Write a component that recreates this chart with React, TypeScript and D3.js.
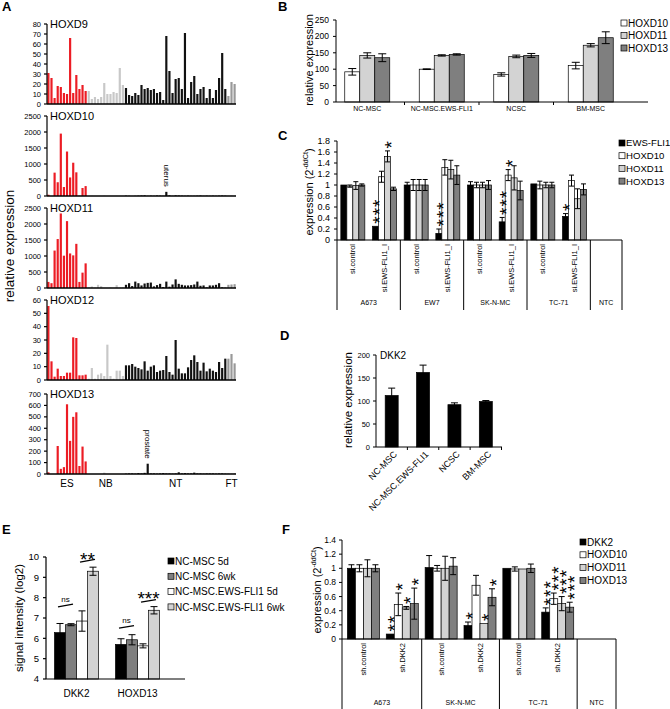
import React from "react";
import * as d3 from "d3";

const FONT = "'Liberation Sans', Arial, Helvetica, sans-serif";
const RED = "#ec1c24";
const BLACK = "#000000";
const WHITE = "#ffffff";
const LIGHT = "#d3d3d3";
const DARK = "#7f7f7f";

// ---------------- Panel A ----------------
const aGroupNames = ["ES", "NB", "NT", "FT"];
const aGroupSizes = [13, 12, 33, 3];
const aGenes = ["HOXD9", "HOXD10", "HOXD11", "HOXD12", "HOXD13"];
const aMax = [80, 2500, 2500, 60, 700];
const aStep = [10, 500, 500, 10, 100];
const hoxd9 = [
  31, 26, 6, 18, 17, 11, 10, 66, 11, 29, 15, 19, 13,
  13, 5, 7, 5, 7, 21, 10, 10, 12, 11, 36, 19,
  16, 9, 8, 11, 9, 19, 15, 16, 14, 15, 11, 12, 4, 68, 33, 11, 25, 26, 15, 71,
  6, 22, 28, 10, 15, 17, 6, 15, 6, 14, 26, 51, 15, 8, 22, 20,
];
const hoxd10 = [
  40, 0, 730, 430, 1950, 280, 1390, 580, 1040, 740, 10, 250, 310,
  0, 5, 0, 0, 0, 10, 0, 0, 0, 5, 0, 0,
  10, 5, 0, 5, 10, 15, 20, 5, 10, 5, 15, 10, 5, 130, 20, 5, 20, 15, 10, 5,
  10, 5, 5, 10, 15, 5, 10, 5, 10, 5, 10, 15, 10, 5, 10, 5,
];
const hoxd11 = [
  190, 150, 1170, 1530, 2330, 1010, 2090, 1080, 1020, 1380, 190, 480, 770,
  20, 50, 10, 100, 60, 0, 0, 10, 0, 90, 10, 20,
  100, 150, 60, 200, 150, 80, 140, 160, 170, 50, 90, 130, 30, 200, 40, 110, 270, 130, 100, 80,
  80, 90, 110, 200, 70, 80, 20, 80, 80, 100, 150, 20, 10, 100, 110, 120,
];
const hoxd12 = [
  55.5, 14, 2.5, 8.5, 3, 3, 5.5, 5.5, 32, 31.5, 3.5, 3.5, 4,
  1, 9, 1, 4, 5, 3, 26.5, 3, 1, 7, 7, 3,
  11, 11, 12, 10, 9, 8, 14, 7, 10, 11, 6, 7, 7.5, 18, 6, 4, 30, 8.5, 5, 5,
  9.5, 15, 18.5, 13.5, 7, 13, 6.5, 8.5, 7, 6, 13.5, 9, 16, 16, 19.5, 12.5,
];
const hoxd13 = [
  15, 0, 0, 245, 45, 60, 610, 290, 500, 540, 70, 240, 110,
  0, 0, 0, 0, 0, 12, 0, 0, 0, 0, 0, 0,
  3, 5, 5, 3, 8, 5, 10, 90, 5, 5, 3, 5, 8, 5, 5, 3, 5, 15, 5, 8,
  5, 5, 12, 5, 5, 3, 5, 5, 5, 3, 5, 5, 3, 5, 3, 5,
];
const aValues = [hoxd9, hoxd10, hoxd11, hoxd12, hoxd13];
const aNotes = [
  { gene: "HOXD10", index: 38, text: "uterus" },
  { gene: "HOXD13", index: 32, text: "prostate" },
];

// ---------------- Panel B ----------------
const bCats = ["NC-MSC", "NC-MSC.EWS-FLI1", "NCSC", "BM-MSC"];
const bSeries = ["HOXD10", "HOXD11", "HOXD13"];
const bHOXD10 = [92, 100, 84, 111];
const bHOXD10err = [10, 1, 5, 10];
const bHOXD11 = [142, 142, 139, 173];
const bHOXD11err = [8, 2, 4, 5];
const bHOXD13 = [135, 145, 142, 196];
const bHOXD13err = [12, 2, 6, 18];
const bTicks = [0, 50, 100, 150, 200, 250];

// ---------------- Panel C ----------------
const cCellLines = ["A673", "EW7", "SK-N-MC", "TC-71", "NTC"];
const cGroupSizes = [2, 2, 2, 2, 1];
const cConditions = ["si.control", "si.EWS-FLI1_I", "si.control", "si.EWS-FLI1_I", "si.control", "si.EWS-FLI1_I", "si.control", "si.EWS-FLI1_I", ""];
const cSeries = ["EWS-FLI1", "HOXD10", "HOXD11", "HOXD13"];
const cEWS = [1.0, 0.25, 1.0, 0.12, 1.0, 0.33, 1.02, 0.43, 0];
const cEWSerr = [0, 0, 0.05, 0.08, 0.06, 0.08, 0, 0.05, 0];
const cHOXD10 = [0.98, 1.15, 1.0, 1.32, 1.0, 1.18, 1.0, 1.08, 0];
const cHOXD10err = [0.02, 0.1, 0.1, 0.14, 0.05, 0.1, 0.07, 0.1, 0];
const cHOXD11 = [0.99, 1.52, 1.0, 1.28, 1.0, 1.13, 1.0, 0.75, 0];
const cHOXD11err = [0.07, 0.1, 0.1, 0.17, 0.05, 0.22, 0.05, 0.18, 0];
const cHOXD13 = [1.0, 0.93, 1.0, 1.18, 1.0, 0.9, 1.0, 0.92, 0];
const cHOXD13err = [0.02, 0.03, 0.1, 0.17, 0.08, 0.17, 0.05, 0.1, 0];
const cTicks = [0, 0.2, 0.4, 0.6, 0.8, 1, 1.2, 1.4, 1.6, 1.8];
const cStars = [
  { slot: 1, series: 0, n: 3 },
  { slot: 1, series: 2, n: 1 },
  { slot: 3, series: 0, n: 3 },
  { slot: 5, series: 0, n: 3 },
  { slot: 5, series: 1, n: 1 },
  { slot: 7, series: 0, n: 1 },
];

// ---------------- Panel D ----------------
const dCats = ["NC-MSC", "NC-MSC.EWS-FLI1", "NCSC", "BM-MSC"];
const dDKK2 = [112, 162, 92, 99];
const dDKK2err = [16, 16, 4, 2];
const dTicks = [0, 50, 100, 150, 200];

// ---------------- Panel E ----------------
const eGenes = ["DKK2", "HOXD13"];
const eSeries = ["NC-MSC 5d", "NC-MSC 6wk", "NC-MSC.EWS-FLI1 5d", "NC-MSC.EWS-FLI1 6wk"];
const eMSC5d = [6.28, 5.7];
const eMSC5dErr = [0.45, 0.28];
const eMSC6wk = [6.67, 5.93];
const eMSC6wkErr = [0.05, 0.25];
const eEWS5d = [6.85, 5.63];
const eEWS5dErr = [0.5, 0.1];
const eEWS6wk = [9.3, 7.38];
const eEWS6wkErr = [0.2, 0.18];
const eTicks = [4, 5, 6, 7, 8, 9, 10];
const eSig = [
  { gene: 0, a: 0, b: 1, text: "ns", yA: 7.55, yB: 7.68, yT: 7.95 },
  { gene: 0, a: 2, b: 3, text: "**", yA: 9.75, yB: 9.88, yT: 10.1 },
  { gene: 1, a: 0, b: 1, text: "ns", yA: 6.5, yB: 6.62, yT: 6.9 },
  { gene: 1, a: 2, b: 3, text: "***", yA: 7.78, yB: 7.9, yT: 8.2 },
];

// ---------------- Panel F ----------------
const fCellLines = ["A673", "SK-N-MC", "TC-71", "NTC"];
const fGroupSizes = [2, 2, 2, 1];
const fConditions = ["sh.control", "sh.DKK2", "sh.control", "sh.DKK2", "sh.control", "sh.DKK2", ""];
const fSeries = ["DKK2", "HOXD10", "HOXD11", "HOXD13"];
const fDKK2 = [1.0, 0.07, 1.01, 0.19, 1.0, 0.38, 0];
const fDKK2err = [0.05, 0, 0.17, 0.05, 0, 0.06, 0];
const fHOXD10 = [1.0, 0.49, 1.0, 0.76, 0.99, 0.57, 0];
const fHOXD10err = [0.05, 0.16, 0.04, 0.14, 0.03, 0.08, 0];
const fHOXD11 = [1.0, 0.44, 1.0, 0.22, 0.99, 0.5, 0];
const fHOXD11err = [0.12, 0.02, 0.17, 0.01, 0, 0.1, 0];
const fHOXD13 = [1.0, 0.5, 1.03, 0.59, 1.0, 0.45, 0];
const fHOXD13err = [0.05, 0.22, 0.12, 0.12, 0.06, 0.07, 0];
const fTicks = [0, 0.2, 0.4, 0.6, 0.8, 1, 1.2, 1.4];
const fStars = [
  { slot: 1, series: 0, n: 2 },
  { slot: 1, series: 1, n: 1 },
  { slot: 1, series: 2, n: 1 },
  { slot: 1, series: 3, n: 1 },
  { slot: 3, series: 0, n: 1 },
  { slot: 3, series: 2, n: 1 },
  { slot: 3, series: 3, n: 1 },
  { slot: 5, series: 0, n: 3 },
  { slot: 5, series: 1, n: 3 },
  { slot: 5, series: 2, n: 3 },
  { slot: 5, series: 3, n: 3 },
];

// ---------------- helpers ----------------
const fmt = (t: number) => String(+t.toFixed(1));

function YAxis({ x, y, ticks, fs, labelGap = 6, tickLen = 3, format = fmt, sw = 1 }: any) {
  const [r0, r1] = y.range();
  return (
    <g>
      <line x1={x} x2={x} y1={r0} y2={r1} stroke={BLACK} strokeWidth={sw} />
      {ticks.map((t: number) => (
        <g key={t}>
          <line x1={x - tickLen} x2={x} y1={y(t)} y2={y(t)} stroke={BLACK} strokeWidth={sw} />
          <text x={x - labelGap} y={y(t)} dy="0.35em" textAnchor="end" fontSize={fs}>
            {format(t)}
          </text>
        </g>
      ))}
    </g>
  );
}

function Bars({ centers, series, errs, fills, barW, y, capW }: any) {
  const n = series.length;
  const base = y(y.domain()[0]);
  return (
    <g>
      {series.map((vals: number[], s: number) =>
        vals.map((v: number, i: number) => {
          const cx = centers[i] + (s - (n - 1) / 2) * barW;
          const e = errs[s][i];
          if (v <= y.domain()[0] + 1e-9 && e === 0) return null;
          return (
            <g key={s + "-" + i}>
              <rect x={cx - barW / 2} y={y(v)} width={barW} height={base - y(v)} fill={fills[s]} stroke={BLACK} strokeWidth={0.7} />
              {e > 0.015 && (
                <g stroke={BLACK} strokeWidth={1}>
                  <line x1={cx} x2={cx} y1={y(v - e)} y2={y(v + e)} />
                  <line x1={cx - capW / 2} x2={cx + capW / 2} y1={y(v + e)} y2={y(v + e)} />
                  <line x1={cx - capW / 2} x2={cx + capW / 2} y1={y(v - e)} y2={y(v - e)} />
                </g>
              )}
            </g>
          );
        })
      )}
    </g>
  );
}

// stacked significance stars: one vertical (rotated) text per stack
function Stars({ stars, centers, series, errs, barW, y, size = 19 }: any) {
  const nS = series.length;
  return (
    <g>
      {stars.map((st: any, k: number) => {
        const v = series[st.series][st.slot];
        const e = errs[st.series][st.slot];
        const top = y(v + (e > 0.015 ? e : 0));
        const cx = centers[st.slot] + (st.series - (nS - 1) / 2) * barW;
        const bx = cx + size * 0.575;
        const by = top - 2.5;
        return (
          <text key={k} transform={`translate(${bx},${by}) rotate(-90)`} fontSize={size} letterSpacing={1}>
            {"*".repeat(st.n)}
          </text>
        );
      })}
    </g>
  );
}

function Legend({ x, y0, dy, labels, fills, fs = 10 }: any) {
  return (
    <g>
      {labels.map((l: string, i: number) => (
        <g key={l}>
          <rect x={x} y={y0 + i * dy - 3} width={6} height={6} fill={fills[i]} stroke={BLACK} strokeWidth={0.7} />
          <text x={x + 7} y={y0 + i * dy} dy="0.36em" fontSize={fs}>
            {l}
          </text>
        </g>
      ))}
    </g>
  );
}

function ExprLabel({ x, y, fs }: any) {
  return (
    <text transform={`translate(${x},${y}) rotate(-90)`} textAnchor="middle" fontSize={fs}>
      expression (2
      <tspan fontSize={fs * 0.65} dy={-fs * 0.42}>
        -ddCt
      </tspan>
      <tspan dy={fs * 0.42}>)</tspan>
    </text>
  );
}

function Letter({ x, y, t }: any) {
  return (
    <text x={x} y={y} fontSize={13} fontWeight="bold">
      {t}
    </text>
  );
}

// ---------------- Panels ----------------
function PanelA() {
  const n = hoxd9.length;
  const x = d3.scaleBand<number>().domain(d3.range(n)).range([47, 236]).paddingInner(0.3).paddingOuter(0.1);
  const groupOf: number[] = [];
  aGroupSizes.forEach((s, g) => {
    for (let i = 0; i < s; i++) groupOf.push(g);
  });
  const colors = [RED, "#c8c8c8", "#111111", "#999999"];
  const tops = [24, 116, 208, 300, 394];
  const h = 80;
  const cx = (i: number) => (x(i) as number) + x.bandwidth() / 2;
  let start = 0;
  const groupCenters = aGroupSizes.map((s) => {
    const c = (cx(start) + cx(start + s - 1)) / 2;
    start += s;
    return c;
  });
  return (
    <g>
      <Letter x={2} y={11} t="A" />
      {aValues.map((vals, k) => {
        const y = d3.scaleLinear().domain([0, aMax[k]]).range([tops[k] + h, tops[k]]);
        const ticks = d3.range(0, aMax[k] + 1, aStep[k]);
        return (
          <g key={k}>
            {vals.map((v, i) => (
              <rect key={i} x={x(i)} y={y(v)} width={x.bandwidth()} height={y(0) - y(v)} fill={colors[groupOf[i]]} />
            ))}
            <YAxis x={47} y={y} ticks={ticks} fs={7.5} format={(t: number) => String(t)} sw={1.2} />
            <line x1={47} x2={236} y1={y(0)} y2={y(0)} stroke={BLACK} strokeWidth={1.5} />
            <text x={50} y={tops[k] + 4} fontSize={11}>
              {aGenes[k]}
            </text>
            {aNotes
              .filter((nn) => nn.gene === aGenes[k])
              .map((nn) => (
                <text
                  key={nn.text}
                  transform={`translate(${cx(nn.index) - 2.5},${y(vals[nn.index]) - 5}) rotate(90)`}
                  textAnchor="end"
                  fontSize={8}
                >
                  {nn.text}
                </text>
              ))}
          </g>
        );
      })}
      {aGroupNames.map((g, i) => (
        <text key={g} x={groupCenters[i]} y={487} textAnchor="middle" fontSize={10}>
          {g}
        </text>
      ))}
      <text transform="translate(14,246) rotate(-90)" textAnchor="middle" fontSize={13.5}>
        relative expression
      </text>
    </g>
  );
}

function PanelB() {
  const y = d3.scaleLinear().domain([0, 250]).range([102, 20]);
  const x = d3.scaleBand<string>().domain(bCats).range([330, 628]);
  const centers = bCats.map((c) => (x(c) as number) + x.bandwidth() / 2);
  const fills = [WHITE, LIGHT, DARK];
  return (
    <g>
      <Letter x={278} y={11} t="B" />
      <Bars centers={centers} series={[bHOXD10, bHOXD11, bHOXD13]} errs={[bHOXD10err, bHOXD11err, bHOXD13err]} fills={fills} barW={15} y={y} capW={8} />
      <YAxis x={336} y={y} ticks={bTicks} fs={8.5} format={(t: number) => String(t)} labelGap={7} />
      <line x1={336} x2={648} y1={102} y2={102} stroke={BLACK} />
      {bCats.slice(1).map((c) => (
        <line key={c} x1={x(c)} x2={x(c)} y1={102} y2={105} stroke={BLACK} />
      ))}
      {bCats.map((c, i) => (
        <text key={c} x={centers[i]} y={111} textAnchor="middle" fontSize={7}>
          {c}
        </text>
      ))}
      <text transform="translate(313,60) rotate(-90)" textAnchor="middle" fontSize={11}>
        relative expression
      </text>
      <Legend x={621} y0={23} dy={12.5} labels={bSeries} fills={fills} />
    </g>
  );
}

function PanelC() {
  const y = d3.scaleLinear().domain([0, 1.8]).range([240, 141]);
  const x = d3.scaleBand<number>().domain(d3.range(cConditions.length)).range([337, 622]);
  const centers = d3.range(cConditions.length).map((i) => (x(i) as number) + x.bandwidth() / 2);
  const fills = [BLACK, WHITE, LIGHT, DARK];
  const series = [cEWS, cHOXD10, cHOXD11, cHOXD13];
  const errs = [cEWSerr, cHOXD10err, cHOXD11err, cHOXD13err];
  let s0 = 0;
  const groups = cGroupSizes.map((s) => {
    const g = { start: s0, end: s0 + s };
    s0 += s;
    return g;
  });
  const edge = (i: number) => (i >= cConditions.length ? x.range()[1] : (x(i) as number));
  return (
    <g>
      <Letter x={278} y={140} t="C" />
      <Bars centers={centers} series={series} errs={errs} fills={fills} barW={6} y={y} capW={5} />
      <Stars stars={cStars} centers={centers} series={series} errs={errs} barW={6} y={y} />
      <YAxis x={337} y={y} ticks={cTicks} fs={9} labelGap={7} />
      <line x1={337} x2={622} y1={240} y2={240} stroke={BLACK} />
      <line x1={337} x2={337} y1={240} y2={310} stroke={BLACK} />
      {groups.map((g, i) => (
        <g key={i}>
          <line x1={edge(g.end)} x2={edge(g.end)} y1={240} y2={310} stroke={BLACK} />
          <text x={(edge(g.start) + edge(g.end)) / 2} y={305} textAnchor="middle" fontSize={7}>
            {cCellLines[i]}
          </text>
        </g>
      ))}
      {cConditions.map((c, i) => (
        <text key={i} transform={`translate(${centers[i] + 2.5},244) rotate(-90)`} textAnchor="end" fontSize={7.5}>
          {c}
        </text>
      ))}
      <ExprLabel x={313} y={192} fs={11} />
      <Legend x={619} y0={143} dy={12.7} labels={cSeries} fills={fills} fs={9.6} />
    </g>
  );
}

function PanelD() {
  const y = d3.scaleLinear().domain([0, 200]).range([447, 355]);
  const x = d3.scaleBand<string>().domain(dCats).range([376, 501.5]);
  const centers = dCats.map((c) => (x(c) as number) + x.bandwidth() / 2);
  return (
    <g>
      <Letter x={280} y={340} t="D" />
      <Bars centers={centers} series={[dDKK2]} errs={[dDKK2err]} fills={[BLACK]} barW={13} y={y} capW={7} />
      <YAxis x={376} y={y} ticks={dTicks} fs={7.5} format={(t: number) => String(t)} />
      <line x1={376} x2={502} y1={447} y2={447} stroke={BLACK} />
      {dCats.map((c) => (
        <line key={c} x1={(x(c) as number) + x.bandwidth()} x2={(x(c) as number) + x.bandwidth()} y1={447} y2={450} stroke={BLACK} />
      ))}
      {dCats.map((c, i) => (
        <text key={c} transform={`translate(${centers[i] + 6},455) rotate(-45)`} textAnchor="end" fontSize={9}>
          {c}
        </text>
      ))}
      <text x={380} y={359} fontSize={10}>
        DKK2
      </text>
      <text transform="translate(352,400) rotate(-90)" textAnchor="middle" fontSize={11.5}>
        relative expression
      </text>
    </g>
  );
}

function PanelE() {
  const y = d3.scaleLinear().domain([4, 10]).range([679, 557]);
  const x = d3.scaleBand<string>().domain(eGenes).range([46, 168]);
  const centers = eGenes.map((g) => (x(g) as number) + x.bandwidth() / 2);
  const fills = [BLACK, DARK, WHITE, LIGHT];
  const barW = 11;
  const bx = (g: number, s: number) => centers[g] + (s - 1.5) * barW;
  return (
    <g>
      <Letter x={2} y={534} t="E" />
      <Bars
        centers={centers}
        series={[eMSC5d, eMSC6wk, eEWS5d, eEWS6wk]}
        errs={[eMSC5dErr, eMSC6wkErr, eEWS5dErr, eEWS6wkErr]}
        fills={fills}
        barW={barW}
        y={y}
        capW={7}
      />
      <YAxis x={46} y={y} ticks={eTicks} fs={9.5} format={(t: number) => String(t)} labelGap={7} sw={1.2} />
      <line x1={46} x2={185} y1={679} y2={679} stroke={BLACK} strokeWidth={1.2} />
      {eSig.map((s, i) => (
        <g key={i}>
          <line x1={bx(s.gene, s.a) - 2} x2={bx(s.gene, s.b) + 2} y1={y(s.yA)} y2={y(s.yB)} stroke={BLACK} strokeWidth={1.3} />
          {s.text === "ns" ? (
            <text x={(bx(s.gene, s.a) + bx(s.gene, s.b)) / 2} y={y(s.yT) + 3} textAnchor="middle" fontSize={8}>
              ns
            </text>
          ) : (
            <text x={(bx(s.gene, s.a) + bx(s.gene, s.b)) / 2} y={y(s.yT) + 19 * 0.575} textAnchor="middle" fontSize={19}>
              {s.text}
            </text>
          )}
        </g>
      ))}
      {eGenes.map((g, i) => (
        <text key={g} x={centers[i]} y={697} textAnchor="middle" fontSize={10}>
          {g}
        </text>
      ))}
      <text transform="translate(23,618) rotate(-90)" textAnchor="middle" fontSize={11.5}>
        signal intensity (log2)
      </text>
      <Legend x={168} y0={561} dy={15.3} labels={eSeries} fills={fills} />
    </g>
  );
}

function PanelF() {
  const y = d3.scaleLinear().domain([0, 1.4]).range([639, 540]);
  const x = d3.scaleBand<number>().domain(d3.range(fConditions.length)).range([344, 616]);
  const centers = d3.range(fConditions.length).map((i) => (x(i) as number) + x.bandwidth() / 2);
  const fills = [BLACK, WHITE, LIGHT, DARK];
  const series = [fDKK2, fHOXD10, fHOXD11, fHOXD13];
  const errs = [fDKK2err, fHOXD10err, fHOXD11err, fHOXD13err];
  let s0 = 0;
  const groups = fGroupSizes.map((s) => {
    const g = { start: s0, end: s0 + s };
    s0 += s;
    return g;
  });
  const edge = (i: number) => (i >= fConditions.length ? x.range()[1] : (x(i) as number));
  return (
    <g>
      <Letter x={282} y={534} t="F" />
      <Bars centers={centers} series={series} errs={errs} fills={fills} barW={8} y={y} capW={6} />
      <Stars stars={fStars} centers={centers} series={series} errs={errs} barW={8} y={y} />
      <YAxis x={342} y={y} ticks={fTicks} fs={8.5} labelGap={6} />
      <line x1={342} x2={616} y1={639} y2={639} stroke={BLACK} />
      <line x1={342} x2={342} y1={639} y2={709} stroke={BLACK} />
      {groups.map((g, i) => (
        <g key={i}>
          <line x1={edge(g.end)} x2={edge(g.end)} y1={639} y2={709} stroke={BLACK} />
          <text x={i === 0 ? (342 + edge(g.end)) / 2 : (edge(g.start) + edge(g.end)) / 2} y={705} textAnchor="middle" fontSize={7}>
            {fCellLines[i]}
          </text>
        </g>
      ))}
      {fConditions.map((c, i) => (
        <text key={i} transform={`translate(${centers[i] + 2.5},643) rotate(-90)`} textAnchor="end" fontSize={7.5}>
          {c}
        </text>
      ))}
      <ExprLabel x={321} y={590} fs={11} />
      <Legend x={580} y0={542} dy={12.8} labels={fSeries} fills={fills} />
    </g>
  );
}

export default function App() {
  return (
    <svg
      width={670}
      height={709}
      viewBox="0 0 670 709"
      style={{ position: "absolute", left: 0, top: 0, background: "#fff" }}
      fontFamily={FONT}
    >
      <rect width={670} height={709} fill="#fff" />
      <PanelA />
      <PanelB />
      <PanelC />
      <PanelD />
      <PanelE />
      <PanelF />
    </svg>
  );
}
